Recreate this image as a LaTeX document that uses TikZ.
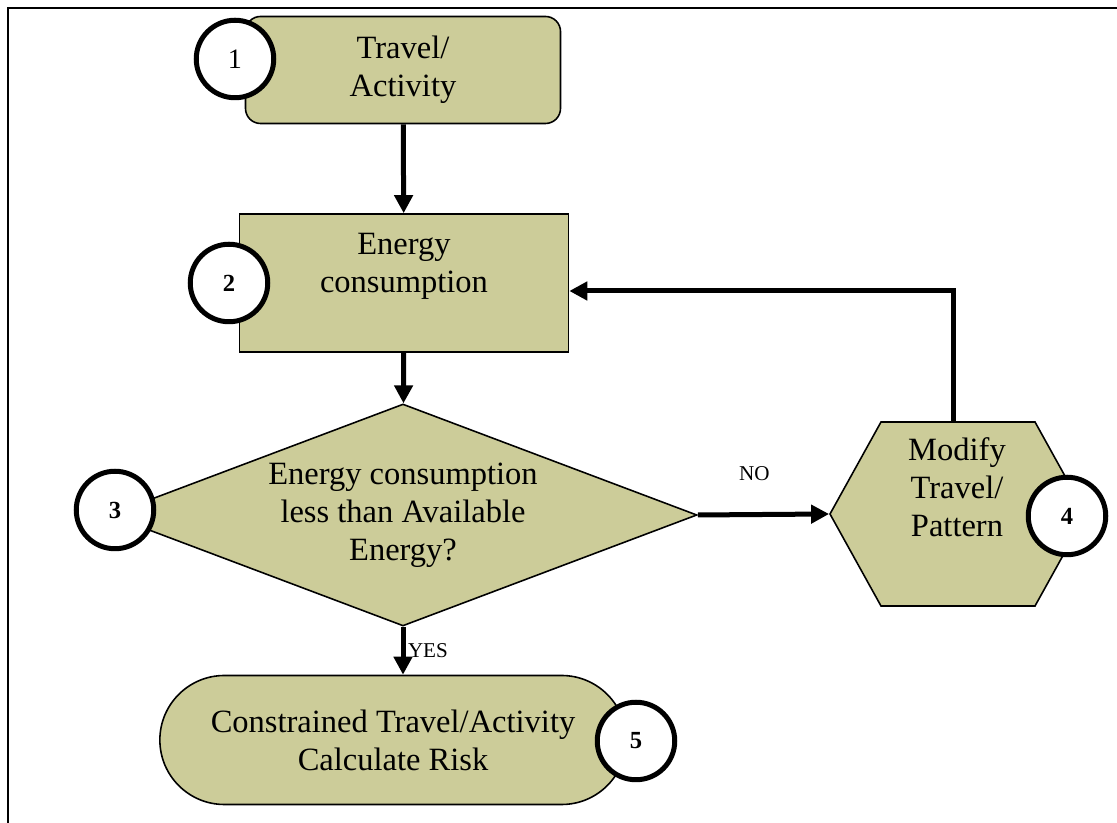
\documentclass[tikz,border=0pt]{standalone}
\usepackage{fontspec}
\setmainfont{Liberation Serif}
\usepackage{tikz}
\usetikzlibrary{positioning, arrows.meta, shapes.geometric, shapes.misc, shapes.symbols}
\definecolor{khaki}{RGB}{204,204,153}

\begin{document}
\begin{tikzpicture}[
    box/.style={draw, fill=khaki, line width=0.9pt, align=center, font=\fontsize{18.5}{21.6}\selectfont},
    term/.style={box, rounded corners=0.3cm, minimum width=6.3cm, minimum height=2.14cm},
    proc/.style={box, rectangle, minimum width=6.58cm, minimum height=2.76cm},
    dec/.style={box, diamond, aspect=2.65, inner sep=0pt, minimum width=11.76cm, minimum height=4.44cm},
    hexa/.style={box, signal, signal to=west and east, signal pointer angle=122, minimum width=5.12cm, minimum height=3.68cm},
    stad/.style={box, rounded rectangle, minimum width=9.56cm, minimum height=2.58cm},
    num/.style={draw, circle, fill=white, line width=0.1cm, minimum size=1.55cm, inner sep=0pt, font=\fontsize{14}{16}\selectfont\bfseries},
    lbl/.style={align=center, font=\fontsize{18.5}{21.6}\selectfont},
    flow/.style={line width=0.1cm, -{Triangle[length=0.36cm, width=0.36cm]}},
    tag/.style={font=\fontsize{12}{14}\selectfont},
]
\useasboundingbox (0,0) rectangle (22.34,16.46);
% frame
\draw[line width=0.04cm] (0.16,0) -- (0.16,16.3) -- (22.34,16.3);

\node[term] (travel) at (8.06,15.06) {Travel/\\Activity};
\node[proc] (energy) at (8.08,10.8) {};
\node[lbl] (energytxt) at (8.08,11.14) {Energy\\consumption};
\node[dec] (check) at (8.06,6.16) {Energy consumption\\less than Available\\Energy?};
\node[hexa] (modify) at (19.16,6.18) {};
\node[lbl] (modifytxt) at (19.14,6.72) {Modify\\Travel/\\Pattern};
\node[stad] (result) at (7.86,1.66) {Constrained Travel/Activity\\Calculate Risk};

\node[num, font=\fontsize{16}{18}\selectfont] (n1) at (4.70,15.28) {1};
\node[num] (n2) at (4.58,10.8) {2};
\node[num] (n3) at (2.30,6.26) {3};
\node[num] (n4) at (21.34,6.14) {4};
\node[num] (n5) at (12.72,1.64) {5};

\coordinate (turn) at (19.06,10.64);

\draw[flow] (travel) -- (energy);
\draw[flow] (energy) -- (check);
\draw[flow] (check.east) -- node[tag, above=0.5cm, xshift=-0.18cm] {NO} (modify.west);
\draw[flow] (check.south) -- node[tag, inner sep=0pt, right=0.05cm] {YES} (check.south |- result.north);
\draw[flow] (turn |- modify.north) -- (turn) -- (turn -| energy.east);
\end{tikzpicture}
\end{document}
